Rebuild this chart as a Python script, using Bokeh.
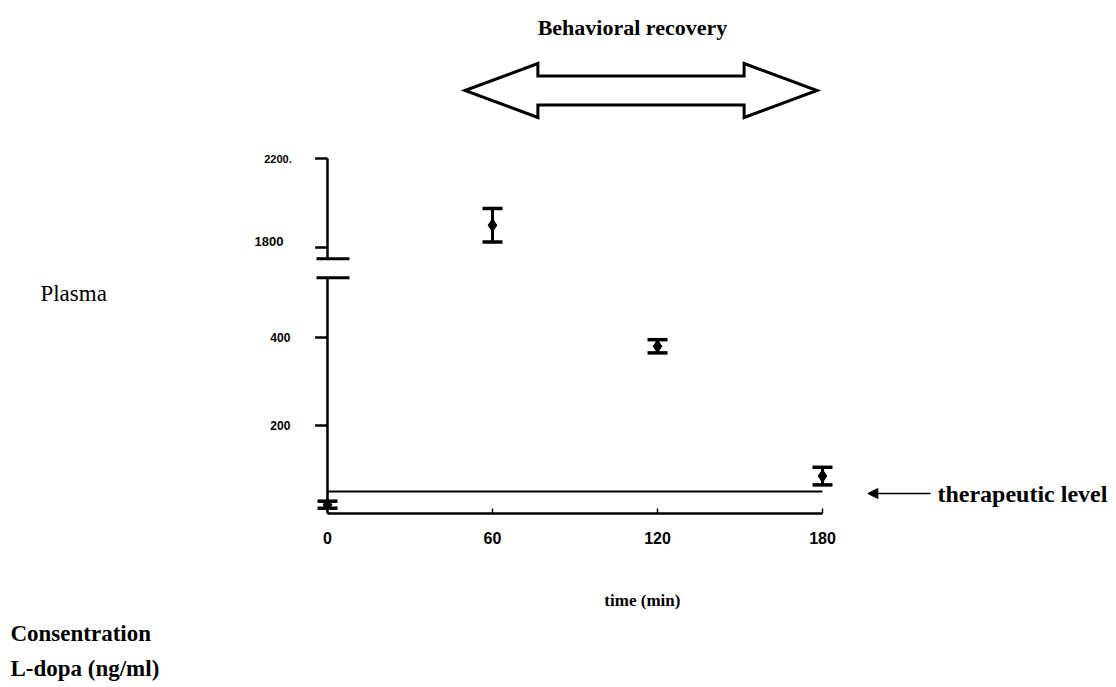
import numpy as np
from bokeh.plotting import figure
from bokeh.models import Range1d, ColumnDataSource, Whisker, TeeHead, Arrow, NormalHead
from bokeh.core.properties import value
from bokeh.embed import file_html
from bokeh.resources import INLINE

# ---------------- data ----------------
minutes = [0, 60, 120, 180]
ldopa_mean = [20, 1900, 380, 85]      # ng/ml
ldopa_sem = [8, 75, 15, 20]
therapeutic_level = 50
x_ticks = [0, 60, 120, 180]
x_tick_labels = ["0", "60", "120", "180"]
y_ticks = [200, 400, 1800, 2200]
y_tick_labels = ["200", "400", "1800", "2200."]
recovery_start, recovery_end = 50, 178   # minutes (behavioral recovery window)

# ---------------- broken y-axis scale ----------------
LOW_K = 0.44          # axis units per ng/ml on the lower segment
UP_K = 0.2225         # axis units per ng/ml on the upper segment
UP_BASE = 266.0       # axis position of 1800
LOW_TOP = 536         # last value drawn on lower segment
UP_BOTTOM = 1750      # first value drawn on upper segment


def to_axis(v):
    v = np.asarray(v, dtype=float)
    return np.where(v <= 1000, v * LOW_K, UP_BASE + (v - 1800) * UP_K)


W, H = 1112, 684
PX_PER_MIN = 2.75
x0 = -327 / PX_PER_MIN
y_top_px = 513
p = figure(width=W, height=H, output_backend="svg", toolbar_location=None,
           x_range=Range1d(x0, x0 + W / PX_PER_MIN),
           y_range=Range1d(y_top_px - H, y_top_px),
           min_border=0, outline_line_color=None)
p.axis.visible = False
p.grid.visible = False
p.background_fill_color = "white"
p.border_fill_color = "white"

INK = "black"
serif = value("Liberation Serif")
sans = value("Liberation Sans")

# ---- y axis (broken) ----
y_low_top = float(to_axis(LOW_TOP))
y_up_bot = float(to_axis(UP_BOTTOM))
y_top = float(to_axis(2200))
p.segment(x0=[0, 0], y0=[0, y_up_bot], x1=[0, 0], y1=[y_low_top, y_top],
          line_color=INK, line_width=2.5)
# break marks
p.segment(x0=[-4, -4], y0=[y_low_top, y_up_bot], x1=[8, 8], y1=[y_low_top, y_up_bot],
          line_color=INK, line_width=3)
# y ticks
yt = to_axis(y_ticks)
p.segment(x0=[-4.5] * len(yt), y0=yt, x1=[0] * len(yt), y1=yt, line_color=INK, line_width=2.5)
ylab_x = [-13.5, -13.5, -16, -13.0]
ylab_dy = [0, 0, 6, 0]
ylab_size = ["12px", "12px", "13px", "11px"]
ysrc = ColumnDataSource(dict(x=ylab_x, y=list(yt + np.array(ylab_dy)), t=y_tick_labels, s=ylab_size))
p.text(x="x", y="y", text="t", text_font_size="s", source=ysrc, text_font=sans,
       text_font_style="bold", text_align="right", text_baseline="middle", text_color=INK)

# ---- x axis ----
p.segment(x0=[0], y0=[0], x1=[180], y1=[0], line_color=INK, line_width=2.5)
p.segment(x0=x_ticks[1:], y0=[0] * 3, x1=x_ticks[1:], y1=[5] * 3, line_color=INK, line_width=1.5)
p.text(x=x_ticks, y=[-24] * 4, text=x_tick_labels, text_font=sans, text_font_style="bold",
       text_font_size="16px", text_align="center", text_baseline="middle", text_color=INK)
p.text(x=[114.5], y=[-87], text=["time (min)"], text_font=serif, text_font_style="bold",
       text_font_size="17px", text_align="center", text_baseline="middle", text_color=INK)

# ---- therapeutic level ----
tl = float(to_axis(therapeutic_level))
p.segment(x0=[0], y0=[tl], x1=[180], y1=[tl], line_color=INK, line_width=2)
p.add_layout(Arrow(x_start=219.3, y_start=tl - 2, x_end=196.5, y_end=tl - 2, line_color=INK,
                   line_width=1.5, end=NormalHead(size=10, fill_color=INK, line_color=INK)))
p.text(x=[221.8], y=[tl - 2], text=["therapeutic level"], text_font=serif,
       text_font_style="bold", text_font_size="24px", text_align="left",
       text_baseline="middle", text_color=INK)

# ---- data: mean +/- SEM ----
mean_arr = np.array(ldopa_mean, dtype=float)
sem_arr = np.array(ldopa_sem, dtype=float)
src = ColumnDataSource(dict(x=minutes, y=to_axis(mean_arr),
                            lo=to_axis(mean_arr - sem_arr), hi=to_axis(mean_arr + sem_arr)))
p.add_layout(Whisker(source=src, base="x", upper="hi", lower="lo", line_color=INK,
                     line_width=3,
                     upper_head=TeeHead(size=20, line_width=3.5, line_color=INK),
                     lower_head=TeeHead(size=20, line_width=3.5, line_color=INK)))
p.scatter(x="x", y="y", source=src, marker="diamond", size=13, fill_color=INK, line_color=INK)

# ---- behavioral recovery double arrow ----
cy, sh, hh = 423, 14.5, 27
hb = 26.5  # head length in minutes
L, R = recovery_start, recovery_end
ax = [L, L + hb, L + hb, R - hb, R - hb, R, R - hb, R - hb, L + hb, L + hb]
ay = [cy, cy + hh, cy + sh, cy + sh, cy + hh, cy, cy - hh, cy - sh, cy - sh, cy - hh]
p.patch(ax, ay, fill_color="white", line_color=INK, line_width=3, line_join="miter")
p.text(x=[110.9], y=[486], text=["Behavioral recovery"], text_font=serif,
       text_font_style="bold", text_font_size="22px", text_align="center",
       text_baseline="middle", text_color=INK)

# ---- side labels ----
p.text(x=[-104.4], y=[220], text=["Plasma"], text_font=serif, text_font_size="23px",
       text_align="left", text_baseline="middle", text_color=INK)
p.text(x=[-115.3, -115.3], y=[-120, -155], text=["Consentration", "L-dopa (ng/ml)"],
       text_font=serif, text_font_style="bold", text_font_size="23px", text_align="left",
       text_baseline="middle", text_color=INK)

open("out.html", "w").write(file_html(p, INLINE))
